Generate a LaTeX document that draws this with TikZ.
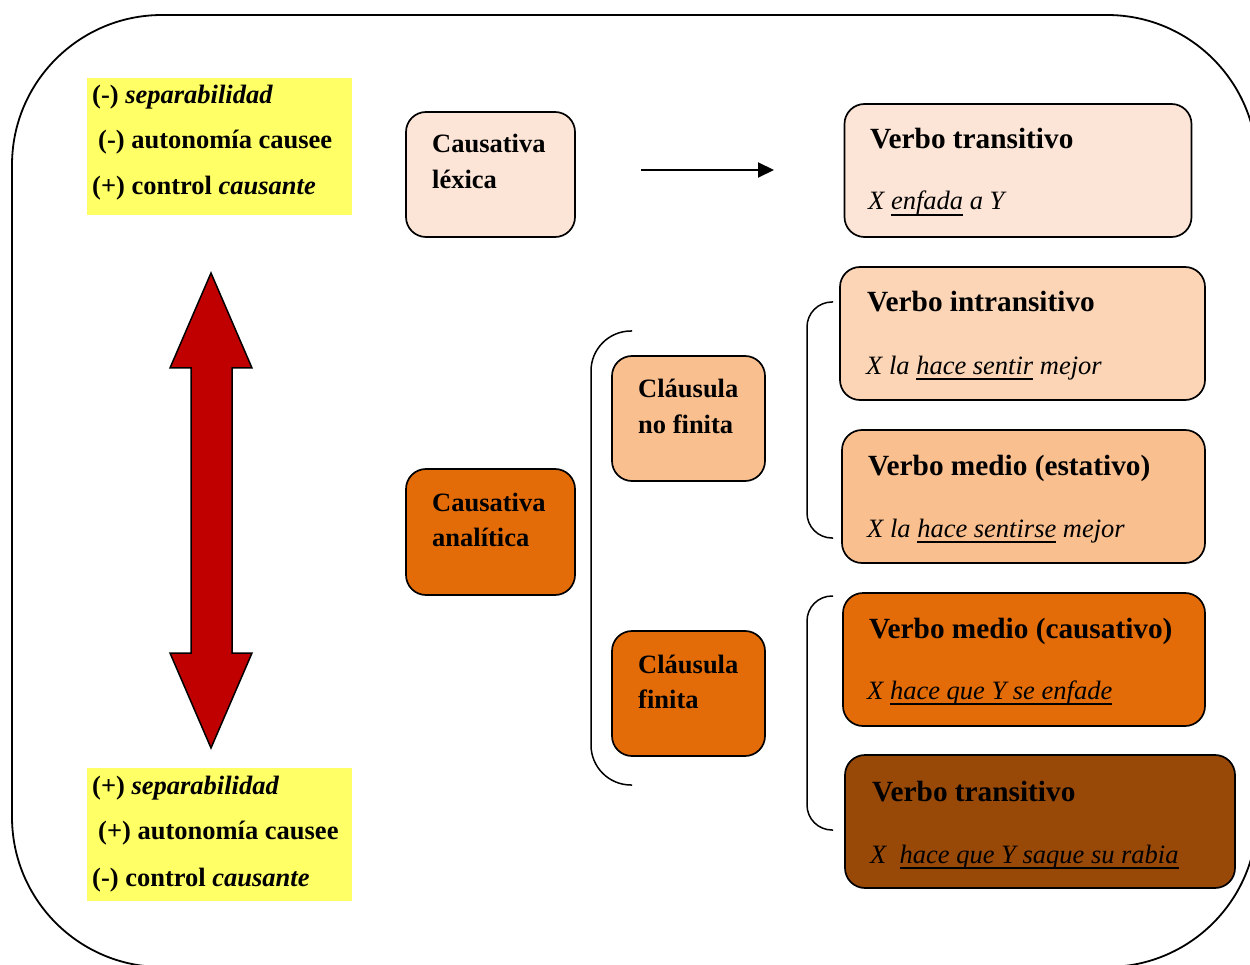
\documentclass[tikz,border=0pt]{standalone}
\usepackage{fontspec}
\setmainfont{Liberation Serif}
\usetikzlibrary{arrows.meta}
\definecolor{cPeach}{HTML}{FCE4D6}
\definecolor{cLight}{HTML}{FBD5B5}
\definecolor{cMid}{HTML}{F9BF8F}
\definecolor{cOrange}{HTML}{E36C09}
\definecolor{cBrown}{HTML}{984807}
\definecolor{cYellow}{HTML}{FFFF66}
\definecolor{cRed}{HTML}{C00000}
\newcommand\myul[1]{\setbox0\hbox{#1}\rlap{\rule[-5.6pt]{\wd0}{1.8pt}}\box0\relax}
\tikzset{
  box/.style={draw=black, line width=1.7pt, rounded corners=20pt, inner sep=0pt},
  ybox/.style={fill=cYellow, draw=none, inner sep=0pt},
  tx/.style={anchor=base west, inner sep=0pt, font=\fontsize{26.5}{30}\selectfont},
  hd/.style={anchor=base west, inner sep=0pt, font=\fontsize{29.3}{33}\selectfont\bfseries},
  ex/.style={anchor=base west, inner sep=0pt, font=\fontsize{26.5}{30}\selectfont\itshape},
  brace/.style={draw=black, line width=1.5pt},
}
\begin{document}
\begin{tikzpicture}[x=1pt,y=-1pt]
\useasboundingbox (0,0) rectangle (1250,965);
\clip (0,0) rectangle (1250,965);
% outer frame
\draw[line width=1.8pt, rounded corners=150pt] (12,15) rectangle (1257,967);

% yellow boxes
\node[ybox, minimum width=265pt, minimum height=137pt] (ytop) at (219.5,146.5) {};
\node[tx] (yt1) at (92,104) {\bfseries (-) \itshape separabilidad};
\node[tx] (yt2) at (98,149) {\bfseries (-) autonomía causee};
\node[tx] (yt3) at (92,195) {\bfseries (+) control \itshape causante};

\node[ybox, minimum width=265pt, minimum height=133pt] (ybot) at (219.5,834.5) {};
\node[tx] (yb1) at (92,794) {\bfseries (+) \itshape separabilidad};
\node[tx] (yb2) at (98,839) {\bfseries (+) autonomía causee};
\node[tx] (yb3) at (92,886) {\bfseries (-) control \itshape causante};

% red double arrow
\draw[fill=cRed, line width=1.5pt, line join=miter]
  (211,273) -- (252,368) -- (232,368) -- (232,653) -- (252,653) -- (211,748)
  -- (170,653) -- (191,653) -- (191,368) -- (170,368) -- cycle;

% causativa lexica
\node[box, fill=cPeach, minimum width=169pt, minimum height=125pt] (lex) at (490.5,174.5) {};
\node[tx] (lexA) at (432,153) {\bfseries Causativa};
\node[tx] (lexB) at (432,189) {\bfseries léxica};

% arrow
\coordinate (arA) at (641,170);
\coordinate (arB) at (774,170);
\draw[line width=2pt, -{Triangle[length=16pt,width=15pt]}] (arA) -- (arB);

% verbo transitivo top
\node[box, fill=cPeach, minimum width=347pt, minimum height=133pt] (vt1) at (1018,170.5) {};
\node[hd] (vt1h) at (870,149) {Verbo transitivo};
\node[ex] (vt1e) at (868,210) {X \myul{enfada} a Y};

% causativa analitica
\node[box, fill=cOrange, minimum width=169pt, minimum height=126pt] (ana) at (490.5,532) {};
\node[tx] (anaA) at (432,511) {\bfseries Causativa};
\node[tx] (anaB) at (432,546) {\bfseries analítica};

% big bracket
\draw[brace, rounded corners=40pt] (632,331) -- (591,331) -- (591,785) -- (632,785);

% clausula no finita
\node[box, fill=cMid, minimum width=153pt, minimum height=125pt] (cnf) at (688.5,418.5) {};
\node[tx] (cnfA) at (638,398) {\bfseries Cláusula};
\node[tx] (cnfB) at (638,433) {\bfseries no finita};

% clausula finita
\node[box, fill=cOrange, minimum width=153pt, minimum height=125pt] (cf) at (688.5,693.5) {};
\node[tx] (cfA) at (638,673) {\bfseries Cláusula};
\node[tx] (cfB) at (638,708) {\bfseries finita};

% bracket 2 and 3
\draw[brace, rounded corners=25pt] (833,302) -- (807,302) -- (807,538) -- (833,538);
\draw[brace, rounded corners=25pt] (833,596) -- (807,596) -- (807,830) -- (833,830);

% verbo intransitivo
\node[box, fill=cLight, minimum width=365pt, minimum height=133pt] (vi) at (1022.5,333.5) {};
\node[hd] (vih) at (867,312) {Verbo intransitivo};
\node[ex] (vie) at (866,374) {X la \myul{hace sentir} mejor};

% verbo medio estativo
\node[box, fill=cMid, minimum width=363pt, minimum height=133pt] (vme) at (1023.5,496.5) {};
\node[hd] (vmeh) at (868,475) {Verbo medio (estativo)};
\node[ex] (vmee) at (867,537) {X la \myul{hace sentirse} mejor};

% verbo medio causativo
\node[box, fill=cOrange, minimum width=362pt, minimum height=133pt] (vmc) at (1024,659.5) {};
\node[hd] (vmch) at (869,638) {Verbo medio (causativo)};
\node[ex] (vmce) at (867,699) {X \myul{hace que Y se enfade}};

% verbo transitivo bottom
\node[box, fill=cBrown, minimum width=390pt, minimum height=133pt] (vt2) at (1040,821.5) {};
\node[hd] (vt2h) at (872,801) {Verbo transitivo};
\node[ex] (vt2e) at (870,863) {X\ \ \myul{hace que Y saque su rabia}};
\end{tikzpicture}
\end{document}
